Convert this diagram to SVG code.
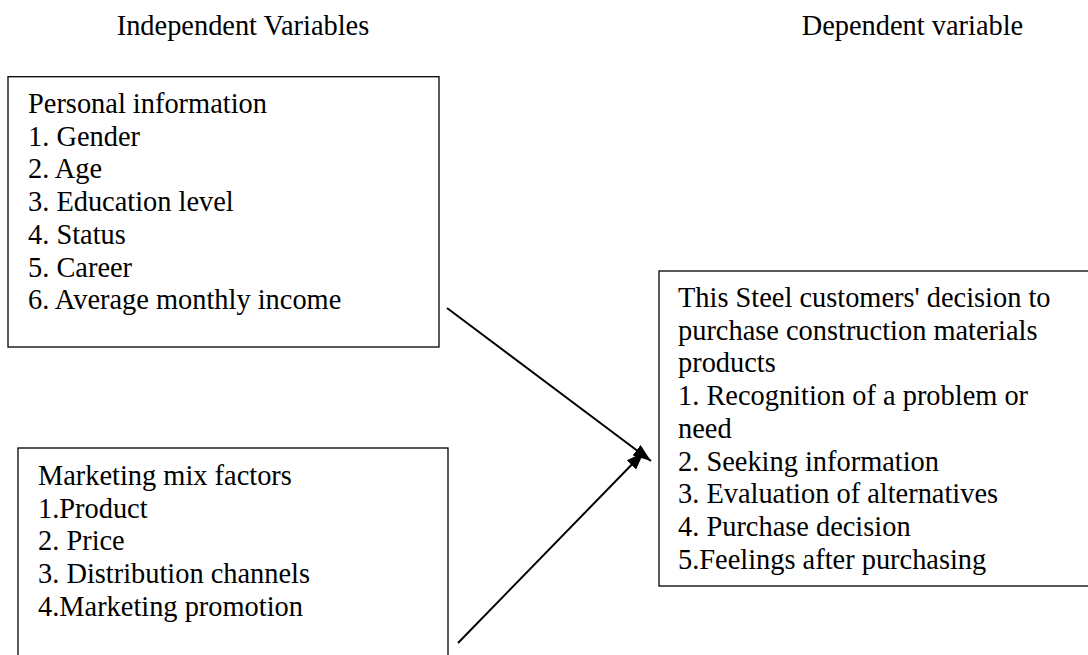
<svg xmlns="http://www.w3.org/2000/svg" width="1088" height="655" viewBox="0 0 1088 655">
<style>
text{font-family:"Liberation Serif","Times New Roman",serif;font-size:28.4px;fill:#000}
.box{fill:#fff;stroke:#000;stroke-width:1.3}
.conn{stroke:#000;stroke-width:2;fill:none}
</style>
<defs>
<marker id="ah" viewBox="0 0 10 10" refX="10" refY="5" markerWidth="18" markerHeight="13" markerUnits="userSpaceOnUse" orient="auto" preserveAspectRatio="none">
<path d="M0,0 L10,5 L0,10 z" fill="#000"/>
</marker>
</defs>
<rect width="1088" height="655" fill="#fff"/>
<g id="header-independent"><text x="116.7" y="35">Independent Variables</text></g>
<g id="header-dependent"><text x="801.7" y="35">Dependent variable</text></g>
<g id="personal-info">
<rect class="box" x="8" y="76.7" width="431" height="270.3"/>
<text x="28" y="113">Personal information</text>
<text x="28" y="145.7">1. Gender</text>
<text x="28" y="178.4">2. Age</text>
<text x="28" y="211.1">3. Education level</text>
<text x="28" y="243.8">4. Status</text>
<text x="28" y="276.5">5. Career</text>
<text x="28" y="309.2">6. Average monthly income</text>
</g>
<g id="marketing-mix">
<rect class="box" x="18" y="448" width="430" height="220"/>
<text x="38" y="485">Marketing mix factors</text>
<text x="38" y="517.7">1.Product</text>
<text x="38" y="550.4">2. Price</text>
<text x="38" y="583.1">3. Distribution channels</text>
<text x="38" y="615.8">4.Marketing promotion</text>
</g>
<g id="purchase-decision">
<rect class="box" x="659" y="271" width="440" height="315"/>
<text x="678" y="307">This Steel customers' decision to</text>
<text x="678" y="339.7">purchase construction materials</text>
<text x="678" y="372.4">products</text>
<text x="678" y="405.1">1. Recognition of a problem or</text>
<text x="678" y="437.8">need</text>
<text x="678" y="470.5">2. Seeking information</text>
<text x="678" y="503.2">3. Evaluation of alternatives</text>
<text x="678" y="535.9">4. Purchase decision</text>
<text x="678" y="568.6">5.Feelings after purchasing</text>
</g>
<g id="connectors">
<line class="conn" x1="447" y1="308" x2="651" y2="461" marker-end="url(#ah)"/>
<line class="conn" x1="458" y1="643" x2="644" y2="452" marker-end="url(#ah)"/>
</g>
</svg>
